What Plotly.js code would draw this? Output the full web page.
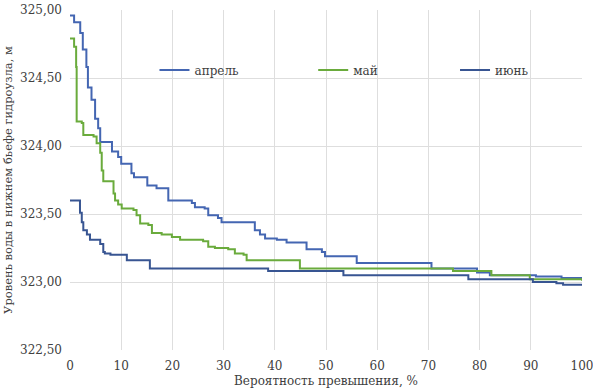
<!DOCTYPE html>
<html>
<head>
<meta charset="utf-8">
<script src="https://cdn.plot.ly/plotly-3.0.1.min.js"></script>
<style>html,body{margin:0;padding:0;background:#fff;}#chart{width:593px;height:389px;}</style>
</head>
<body>
<div id="chart"></div>
<script>
// Series names
const seriesNames = ["апрель", "май", "июнь"];

// апрель: step starts (probability %, level m)
const aprX = [0, 0.8, 2.0, 2.5, 3.2, 3.5, 4.2, 4.9, 5.5, 5.9, 8.2, 9.4, 10.0, 12.0, 12.5, 15.1, 16.9, 19.2, 23.8, 24.4, 26.3, 27.0, 28.9, 29.6, 36.1, 37.1, 38.1, 40.4, 42.3, 46.2, 49.2, 49.8, 56.0, 70.6, 79.5, 82.0, 91.0, 96.0, 100];
const aprY = [324.96, 324.91, 324.83, 324.71, 324.58, 324.43, 324.34, 324.20, 324.13, 324.03, 323.96, 323.92, 323.87, 323.80, 323.77, 323.71, 323.69, 323.60, 323.58, 323.55, 323.54, 323.49, 323.47, 323.44, 323.38, 323.35, 323.32, 323.31, 323.29, 323.24, 323.22, 323.19, 323.14, 323.10, 323.07, 323.05, 323.04, 323.03, 323.03];

// май
const mayX = [0, 0.8, 1.2, 1.3, 2.3, 2.6, 4.6, 5.2, 5.9, 6.2, 6.5, 8.5, 8.8, 9.4, 10.1, 12.4, 13.0, 13.7, 15.3, 16.0, 17.9, 19.9, 21.5, 26.0, 27.0, 28.3, 30.9, 32.2, 33.9, 34.5, 44.9, 74.8, 82.3, 89.8, 100];
const mayY = [324.79, 324.73, 324.58, 324.18, 324.17, 324.08, 324.07, 324.02, 323.95, 323.82, 323.74, 323.65, 323.60, 323.57, 323.54, 323.53, 323.49, 323.43, 323.42, 323.36, 323.35, 323.33, 323.31, 323.30, 323.26, 323.25, 323.24, 323.21, 323.20, 323.16, 323.10, 323.08, 323.05, 323.02, 323.01];

// июнь
const junX = [0, 1.95, 2.3, 2.6, 3.3, 3.9, 5.9, 6.5, 6.8, 7.9, 11.1, 15.6, 38.7, 53.4, 77.8, 90.4, 95.0, 96.3, 100];
const junY = [323.60, 323.51, 323.44, 323.38, 323.35, 323.31, 323.28, 323.22, 323.21, 323.20, 323.16, 323.10, 323.08, 323.05, 323.02, 323.00, 322.99, 322.98, 322.98];

const xTicks = [0, 10, 20, 30, 40, 50, 60, 70, 80, 90, 100];
const yTicks = [322.5, 323.0, 323.5, 324.0, 324.5, 325.0];

const colors = ["#4466b2", "#6aab3c", "#385592"];
const serif = "DejaVu Serif";

const traces = [
  {x: aprX, y: aprY, name: seriesNames[0], legend: "legend"},
  {x: mayX, y: mayY, name: seriesNames[1], legend: "legend2"},
  {x: junX, y: junY, name: seriesNames[2], legend: "legend3"}
].map((t, i) => Object.assign(t, {
  type: "scatter", mode: "lines",
  line: {color: colors[i], width: 2, shape: "hv"}
}));

const legBase = {
  orientation: "h", yanchor: "middle", xanchor: "left", y: 0.8235,
  bgcolor: "rgba(0,0,0,0)", borderwidth: 0, itemwidth: 30,
  font: {family: serif, size: 12, color: "#404040"}
};

const layout = {
  width: 593, height: 389,
  margin: {l: 70, r: 11, t: 10, b: 39},
  paper_bgcolor: "#fff", plot_bgcolor: "#fff",
  separators: ", ",
  font: {family: serif, size: 12, color: "#404040"},
  showlegend: true,
  legend: Object.assign({}, legBase, {x: 0.165}),
  legend2: Object.assign({}, legBase, {x: 0.475}),
  legend3: Object.assign({}, legBase, {x: 0.752}),
  xaxis: {
    range: [0, 100], tickvals: xTicks, ticktext: xTicks.map(String),
    showgrid: true, gridcolor: "#dedede", gridwidth: 1,
    zeroline: false, showline: false, ticks: "", ticklabelstandoff: 7,
    ticklabeloverflow: "allow",
    tickfont: {family: serif, size: 12, color: "#404040"},
    title: {text: "Вероятность превышения, %", standoff: 4, font: {family: serif, size: 12, color: "#404040"}}
  },
  yaxis: {
    range: [322.5, 325.0], tickvals: yTicks, tickformat: ".2f",
    showgrid: true, gridcolor: "#dedede", gridwidth: 1,
    zeroline: false, showline: false, ticks: "", ticklabelstandoff: 7,
    ticklabeloverflow: "allow",
    tickfont: {family: serif, size: 12, color: "#404040"},
    title: {text: "Уровень воды в нижнем бьефе гидроузла, м", standoff: 4, font: {family: serif, size: 11.5, color: "#404040"}}
  }
};

Plotly.newPlot("chart", traces, layout, {displayModeBar: false, staticPlot: true});
</script>
</body>
</html>
